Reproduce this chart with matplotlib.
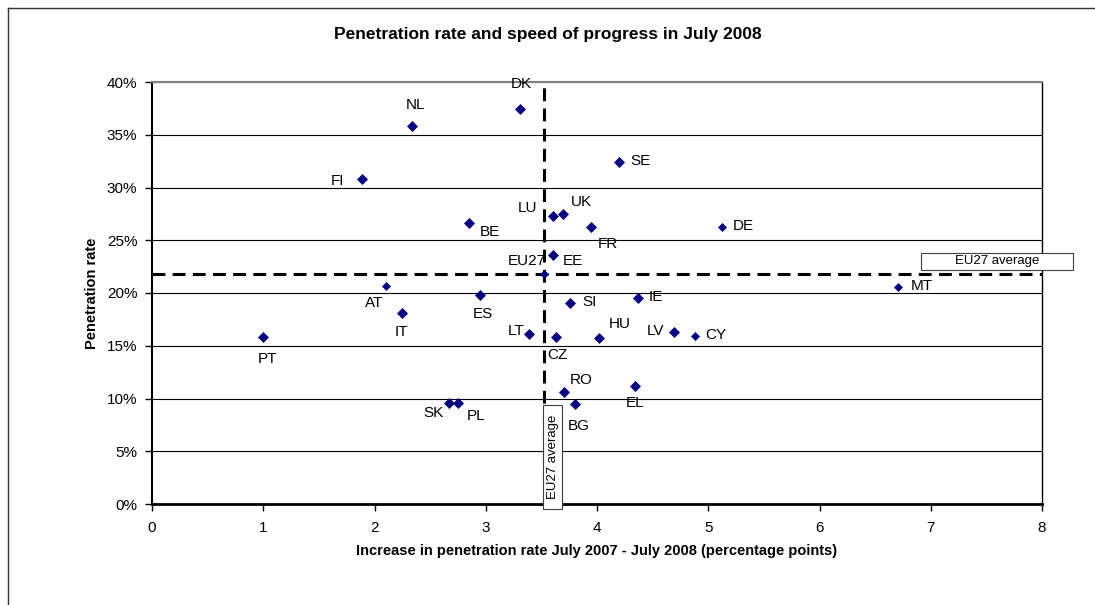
import matplotlib
matplotlib.use('Agg')
import matplotlib.pyplot as plt
from matplotlib.patches import Rectangle
from matplotlib.lines import Line2D
from matplotlib.ticker import FuncFormatter, MultipleLocator

plt.rcParams['font.family'] = ['Liberation Sans', 'DejaVu Sans']

# ---------------- data ----------------
countries = ["DK", "NL", "FI", "BE", "LU", "UK", "EE", "SE", "FR", "DE",
             "AT", "ES", "IT", "PT", "LT", "CZ", "SI", "IE", "HU", "LV",
             "CY", "MT", "SK", "PL", "RO", "BG", "EL"]
increase = [3.31, 2.34, 1.89, 2.85, 3.60, 3.69, 3.60, 4.20, 3.95, 5.12,
            2.10, 2.95, 2.245, 1.00, 3.385, 3.635, 3.76, 4.365, 4.02, 4.69,
            4.88, 6.71, 2.67, 2.755, 3.70, 3.80, 4.34]
penetration = [37.4, 35.8, 30.8, 26.6, 27.3, 27.5, 23.6, 32.4, 26.25, 26.25,
               20.7, 19.85, 18.1, 15.8, 16.15, 15.8, 19.05, 19.5, 15.7, 16.3,
               15.9, 20.55, 9.6, 9.6, 10.6, 9.5, 11.15]
eu27_label = "EU27"
eu27_increase = 3.52
eu27_penetration = 21.8

x_ticks = [0, 1, 2, 3, 4, 5, 6, 7, 8]
y_ticks = [0, 5, 10, 15, 20, 25, 30, 35, 40]

title = "Penetration rate and speed of progress in July 2008"
x_label = "Increase in penetration rate July 2007 - July 2008 (percentage points)"
y_label = "Penetration rate"
avg_text = "EU27 average"

# ---------------- styling ----------------
small_markers = {"AT", "DE", "MT", "CY"}
# label offsets (pixels, y up) of each label centre from its point
label_offsets = {
    "DK": (1, 25), "NL": (3, 21), "FI": (-25, -2), "BE": (21, -9),
    "LU": (-25, 8), "UK": (19, 12), "EE": (20, -6), "SE": (21, 1),
    "FR": (16, -17), "DE": (22, 1), "AT": (-11, -17), "ES": (3, -19),
    "IT": (0, -19), "PT": (4, -22), "LT": (-12, 3), "CZ": (1, -18),
    "SI": (19, 1), "IE": (18, 1), "HU": (21, 14), "LV": (-18, 1),
    "CY": (21, 1), "MT": (23, 1), "SK": (-16, -10), "PL": (18, -13),
    "RO": (18, 12), "BG": (4, -22), "EL": (0, -17), "EU27": (-17, 13),
}
navy = '#000080'

W, H = 1095, 605
fig = plt.figure(figsize=(W / 100, H / 100), dpi=100)
ax = fig.add_axes([152 / W, 1 - 504 / H, (1042 - 152) / W, (504 - 82) / H])

ax.set_xlim(x_ticks[0], x_ticks[-1])
ax.set_ylim(y_ticks[0], y_ticks[-1])
ax.xaxis.set_major_locator(MultipleLocator(1))
ax.set_xticks(x_ticks)
ax.set_yticks(y_ticks)
ax.yaxis.set_major_formatter(FuncFormatter(lambda v, p: f"{v:.0f}%"))
ax.yaxis.grid(True, color='black', lw=0.8)
ax.set_axisbelow(True)

ax.tick_params(axis='both', direction='out', length=5, width=1,
               colors='black', labelsize=11)
ax.tick_params(axis='y', pad=5.5)
ax.tick_params(axis='x', pad=7)

ax.spines['left'].set_linewidth(1.5)
ax.spines['bottom'].set_linewidth(2)
ax.spines['right'].set_linewidth(1)
ax.spines['top'].set_color('#808080')
ax.spines['top'].set_linewidth(1.5)

# EU27 average lines
ax.axvline(eu27_increase, color='black', lw=2.2, dashes=(4.2, 2.4), zorder=2)
ax.axhline(eu27_penetration, color='black', lw=2.2, dashes=(4.2, 2.4), zorder=2)

# points
for c, xv, yv in zip(countries, increase, penetration):
    ms = 3.9 if c in small_markers else 4.8
    ax.plot([xv], [yv], 'D', ms=ms, color=navy, mec=navy, mew=0.5, zorder=4)
    dx, dy = label_offsets[c]
    ax.annotate(c, (xv, yv), xytext=(dx, dy), textcoords='offset pixels',
                ha='center', va='center', fontsize=11, zorder=5)

ax.plot([eu27_increase], [eu27_penetration], 'D', ms=3.9, color=navy,
        mec=navy, mew=0.5, zorder=4)
dx, dy = label_offsets["EU27"]
ax.annotate(eu27_label, (eu27_increase, eu27_penetration), xytext=(dx, dy),
            textcoords='offset pixels', ha='center', va='center', fontsize=11,
            zorder=5)

# "EU27 average" boxes
hbox = Rectangle((6.91, 22.22), 1.366, 1.59, facecolor='white',
                 edgecolor='#404040', lw=0.8, clip_on=False, zorder=6)
ax.add_patch(hbox)
ax.text(6.91 + 1.366 / 2, 22.22 + 1.59 / 2, avg_text, ha='center',
        va='center', fontsize=9.5, zorder=7, clip_on=False)

vbox = Rectangle((3.517, -0.47), 0.171, 9.87, facecolor='white',
                 edgecolor='#404040', lw=0.8, clip_on=False, zorder=6)
ax.add_patch(vbox)
ax.text(3.517 + 0.171 / 2, -0.47 + 9.87 / 2, avg_text, ha='center',
        va='center', rotation=90, fontsize=9.5, zorder=7, clip_on=False)

# titles
fig.text(0.5, 1 - 35 / H, title, ha='center', va='center',
         fontsize=12.5, fontweight='bold')
fig.text((152 + 1042) / 2 / W, 1 - 551 / H, x_label, ha='center',
         va='center', fontsize=10.5, fontweight='bold')
fig.text(92 / W, 1 - 293 / H, y_label, ha='center', va='center',
         rotation=90, fontsize=10.5, fontweight='bold')

# outer chart border (left and top)
fig.add_artist(Line2D([8 / W, 8 / W], [0, 1 - 8 / H], transform=fig.transFigure,
                      color='#333333', lw=1))
fig.add_artist(Line2D([8 / W, 1], [1 - 8 / H, 1 - 8 / H],
                      transform=fig.transFigure, color='#333333', lw=1))

fig.savefig('out.png', dpi=100)
